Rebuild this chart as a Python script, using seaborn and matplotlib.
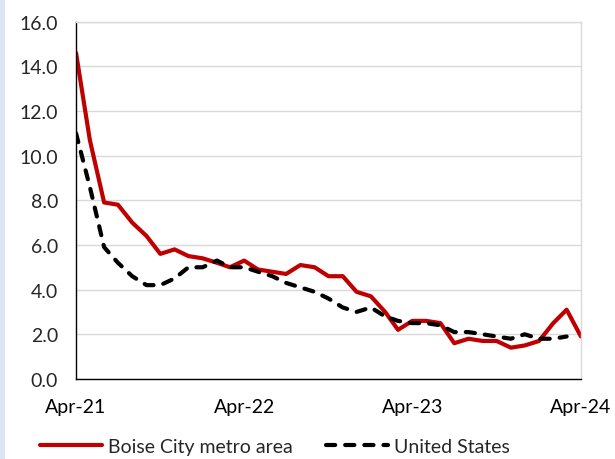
import numpy as np
import pandas as pd
import matplotlib
matplotlib.use("Agg")
import matplotlib.pyplot as plt
from matplotlib.patches import Rectangle
import seaborn as sns

# monthly values, Apr-21 .. Apr-24
months = pd.date_range("2021-04-01", "2024-04-01", freq="MS")
boise = [14.6, 10.7, 7.9, 7.8, 7.0, 6.4, 5.6, 5.8, 5.5, 5.4, 5.2, 5.0,
         5.3, 4.9, 4.8, 4.7, 5.1, 5.0, 4.6, 4.6, 3.9, 3.7, 3.0, 2.2,
         2.6, 2.6, 2.5, 1.6, 1.8, 1.7, 1.7, 1.4, 1.5, 1.7, 2.5, 3.1, 1.9]
us = [11.0, 8.6, 5.9, 5.2, 4.6, 4.2, 4.2, 4.5, 5.0, 5.0, 5.3, 5.0,
      5.0, 4.8, 4.6, 4.3, 4.1, 3.9, 3.6, 3.2, 3.0, 3.2, 2.8, 2.6,
      2.5, 2.5, 2.4, 2.1, 2.1, 2.0, 1.9, 1.8, 2.0, 1.8, 1.8, 1.9, np.nan]
tick_months = pd.to_datetime(["2021-04-01", "2022-04-01", "2023-04-01", "2024-04-01"])
tick_labels = ["Apr-21", "Apr-22", "Apr-23", "Apr-24"]

df = pd.DataFrame({"month": months, "Boise City metro area": boise, "United States": us})

sns.set_style("white")
plt.rcParams["font.family"] = ["Lato", "DejaVu Sans"]

fig = plt.figure(figsize=(6.15, 4.6), dpi=100)
ax = fig.add_axes([0.1236, 0.174, 0.821, 0.777])

sns.lineplot(data=df, x="month", y="Boise City metro area", ax=ax,
             color="#C00000", linewidth=3, label="Boise City metro area")
sns.lineplot(data=df, x="month", y="United States", ax=ax,
             color="black", linewidth=3, label="United States",
             linestyle=(0, (2.2, 2.4)), dash_capstyle="round")

ax.set_ylim(0, 16)
ax.set_yticks(np.arange(0, 17, 2))
ax.set_yticklabels([f"{v:.1f}" for v in np.arange(0, 17, 2)])
ax.set_xlim(months[0], months[-1])
ax.set_xticks(tick_months)
ax.set_xticklabels(tick_labels)
ax.grid(axis="y", color="#d9d9d9", linewidth=1)
ax.set_axisbelow(True)
ax.set_xlabel("")
ax.set_ylabel("")

ax.tick_params(axis="x", direction="inout", length=9, width=1, colors="black",
               labelsize=14, pad=9)
ax.tick_params(axis="y", length=0, labelsize=14, pad=13)
for s in ["left", "bottom"]:
    ax.spines[s].set_color("black")
    ax.spines[s].set_linewidth(1)
for s in ["top", "right"]:
    ax.spines[s].set_color("#d9d9d9")
    ax.spines[s].set_linewidth(1)

ax.get_legend().remove()
handles, labels = ax.get_legend_handles_labels()
fig.legend(handles, labels, loc="lower center", bbox_to_anchor=(0.447, -0.03),
           ncol=2, frameon=False, fontsize=14, handlelength=3.2,
           handletextpad=0.3, columnspacing=1.7)

# pale blue edge like the reference frame
fig.patches.append(Rectangle((0, 0), 0.006, 1, transform=fig.transFigure,
                             color="#dce6f2", zorder=0))

fig.savefig("out.png", dpi=100)
